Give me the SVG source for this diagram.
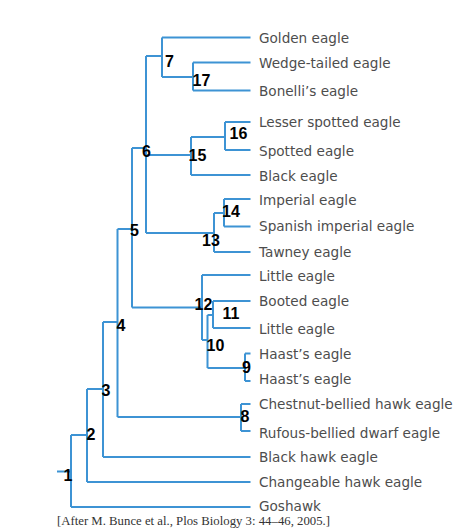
<svg xmlns="http://www.w3.org/2000/svg" width="474" height="529" viewBox="0 0 474 529">
<style>
.c{fill:none;stroke:#3d93d4;stroke-width:2;stroke-linecap:butt}
.sp{font-family:"DejaVu Sans",sans-serif;font-size:13.6px;fill:#4d4d4d}
.n{font-family:"Liberation Sans",Arial,sans-serif;font-size:16px;font-weight:bold;fill:#000;text-anchor:middle}
.cit{font-family:"Liberation Serif","Times New Roman",serif;font-size:12.8px;fill:#333}
</style>
<rect width="474" height="529" fill="#fff"/>
<g id="connectors" class="c">
<path d="M57 471.5H71M71 435V507M71 435H87M71 507H250.5"/>
<path d="M87 389V482M87 389H103M87 482H250.5"/>
<path d="M103 322V457M103 322H117.5M103 457H250.5"/>
<path d="M117.5 229V417M117.5 229H132M117.5 417H241"/>
<path d="M241 404V431M241 404H250.5M241 431H250.5"/>
<path d="M132 148V307.5M132 148H146M132 307.5H202"/>
<path d="M146 56V233M146 56H162M146 155H191M146 233H214"/>
<path d="M162 37.5V77M162 37.5H250.5M162 77H193"/>
<path d="M193 62.5V90.5M193 62.5H250.5M193 90.5H250.5"/>
<path d="M191 137V175M191 137H225M191 175H250.5"/>
<path d="M225 122V150M225 122H250.5M225 150H250.5"/>
<path d="M214 213V252M214 213H224M214 252H250.5"/>
<path d="M224 199V226.5M224 199H250.5M224 226.5H250.5"/>
<path d="M202 275V340M202 275H250.5M202 340H207.5"/>
<path d="M207.5 315V368M207.5 315H213M207.5 368H245"/>
<path d="M213 301V328M213 301H250.5M213 328H250.5"/>
<path d="M245 353.5V381M245 353.5H250.5M245 381H250.5"/>
</g>
<g id="leaf-golden"><text class="sp" x="259" y="42.5">Golden eagle</text></g>
<g id="leaf-wedge"><text class="sp" x="259" y="67.5">Wedge-tailed eagle</text></g>
<g id="leaf-bonelli"><text class="sp" x="259" y="95.5">Bonelli’s eagle</text></g>
<g id="leaf-lesser"><text class="sp" x="259" y="127">Lesser spotted eagle</text></g>
<g id="leaf-spotted"><text class="sp" x="259" y="155.5">Spotted eagle</text></g>
<g id="leaf-black"><text class="sp" x="259" y="180.5">Black eagle</text></g>
<g id="leaf-imperial"><text class="sp" x="259" y="204.5">Imperial eagle</text></g>
<g id="leaf-spanish"><text class="sp" x="259" y="231">Spanish imperial eagle</text></g>
<g id="leaf-tawney"><text class="sp" x="259" y="257">Tawney eagle</text></g>
<g id="leaf-little1"><text class="sp" x="259" y="280.5">Little eagle</text></g>
<g id="leaf-booted"><text class="sp" x="259" y="306">Booted eagle</text></g>
<g id="leaf-little2"><text class="sp" x="259" y="333.5">Little eagle</text></g>
<g id="leaf-haast1"><text class="sp" x="259" y="359">Haast’s eagle</text></g>
<g id="leaf-haast2"><text class="sp" x="259" y="384">Haast’s eagle</text></g>
<g id="leaf-chestnut"><text class="sp" x="259" y="409">Chestnut-bellied hawk eagle</text></g>
<g id="leaf-rufous"><text class="sp" x="259" y="438">Rufous-bellied dwarf eagle</text></g>
<g id="leaf-blackhawk"><text class="sp" x="259" y="462">Black hawk eagle</text></g>
<g id="leaf-changeable"><text class="sp" x="259" y="487">Changeable hawk eagle</text></g>
<g id="leaf-goshawk"><text class="sp" x="259" y="510.5">Goshawk</text></g>
<g id="node-1"><text class="n" x="68" y="480.5">1</text></g>
<g id="node-2"><text class="n" x="91" y="439.5">2</text></g>
<g id="node-3"><text class="n" x="106" y="396">3</text></g>
<g id="node-4"><text class="n" x="121" y="330.5">4</text></g>
<g id="node-5"><text class="n" x="134.5" y="236">5</text></g>
<g id="node-6"><text class="n" x="146.5" y="157">6</text></g>
<g id="node-7"><text class="n" x="169.5" y="66.5">7</text></g>
<g id="node-8"><text class="n" x="245" y="422">8</text></g>
<g id="node-9"><text class="n" x="246.5" y="373">9</text></g>
<g id="node-10"><text class="n" x="215.5" y="350.5">10</text></g>
<g id="node-11"><text class="n" x="231" y="319">11</text></g>
<g id="node-12"><text class="n" x="203.5" y="310">12</text></g>
<g id="node-13"><text class="n" x="211" y="246">13</text></g>
<g id="node-14"><text class="n" x="231" y="216.5">14</text></g>
<g id="node-15"><text class="n" x="197.5" y="160.5">15</text></g>
<g id="node-16"><text class="n" x="238.5" y="139">16</text></g>
<g id="node-17"><text class="n" x="201.5" y="85.5">17</text></g>
<text class="cit" x="57" y="525.3" textLength="273" lengthAdjust="spacingAndGlyphs">[After M. Bunce et al., Plos Biology 3: 44–46, 2005.]</text>
</svg>
